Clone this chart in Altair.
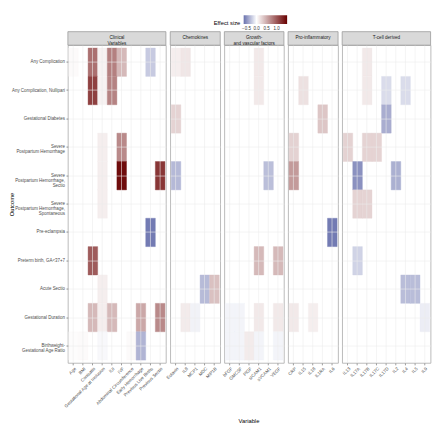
import altair as alt
import pandas as pd

outcomes = [
    "Any Complication",
    "Any Complication, Nullipari",
    "Gestational Diabetes",
    "Severe\nPostpartum Hemorrhage",
    "Severe\nPostpartum Hemorrhage,\nSectio",
    "Severe\nPostpartum Hemorrhage,\nSpontaneous",
    "Pre-eclampsia",
    "Preterm birth, GA<37+7",
    "Acute Sectio",
    "Gestational Duration",
    "Birthweight-\nGestational Age Ratio",
]

group_titles = ["Clinical\nVariables", "Chemokines", "Growth-\nand vascular factors",
                "Pro-inflammatory", "T-cell derived"]
clinical_vars = ["Age", "BMI", "Conisatio", "Gestational Age at Inclusion", "IUI", "IVF",
                 "Abdominal Circumference", "Early Hemorrhage", "Previous Live Births",
                 "Previous Sectio"]
chemokine_vars = ["Eotaxin", "IL8", "MCP1", "MDC", "MIP1B"]
growth_vars = ["bFGF", "GMCSF", "PlGF", "sICAM1", "sVCAM1", "VEGF"]
proinf_vars = ["CRP", "IL15", "IL18", "IL1RA", "IL6"]
tcell_vars = ["IL13", "IL17A", "IL17B", "IL17C", "IL17D", "IL2", "IL4", "IL5", "IL9"]

# cells: outcome index, variable, effect size
cell_row = [0, 0, 0, 0, 0, 0, 0, 0, 0, 0,
            1, 1, 1, 1, 1, 1, 1, 1,
            2, 2, 2,
            3, 3, 3, 3, 3, 3,
            4, 4, 4, 4, 4, 4, 4, 4,
            5, 5, 5,
            6, 6,
            7, 7, 7, 7,
            8, 8, 8, 8, 8,
            9, 9, 9, 9, 9, 9, 9, 9, 9, 9, 9, 9, 9, 9,
            10, 10, 10, 10, 10, 10, 10, 10, 10, 10]
cell_var = ["Age", "Conisatio", "Gestational Age at Inclusion", "IUI", "IVF", "Previous Live Births",
            "Eotaxin", "IL8", "sICAM1", "IL17B",
            "Conisatio", "Gestational Age at Inclusion", "IUI", "sICAM1", "IL15", "IL17B", "IL17D", "IL4",
            "Eotaxin", "IL1RA", "IL17D",
            "Gestational Age at Inclusion", "IVF", "CRP", "IL13", "IL17B", "IL17C",
            "Gestational Age at Inclusion", "IVF", "Previous Sectio", "Eotaxin", "sVCAM1", "CRP", "IL17A", "IL2",
            "Gestational Age at Inclusion", "IL17A", "IL17B",
            "Previous Live Births", "IL6",
            "Conisatio", "sICAM1", "VEGF", "IL17A",
            "Gestational Age at Inclusion", "MDC", "MIP1B", "IL4", "IL5",
            "Conisatio", "Gestational Age at Inclusion", "IUI", "Early Hemorrhage", "Previous Sectio",
            "IL8", "MCP1", "bFGF", "GMCSF", "sICAM1", "VEGF", "CRP", "IL18", "IL9",
            "Age", "BMI", "Gestational Age at Inclusion", "Abdominal Circumference", "Early Hemorrhage",
            "bFGF", "GMCSF", "PlGF", "sICAM1", "VEGF"]
cell_value = [0.03, 0.85, 0.08, 0.76, 0.42, -0.24,
              0.10, 0.15, 0.13, 0.13,
              1.14, 0.08, 0.74, 0.13, 0.18, 0.13, -0.16, -0.16,
              0.26, 0.34, -0.37,
              0.10, 0.70, 0.27, 0.27, 0.26, 0.26,
              0.10, 1.45, 1.20, -0.32, -0.29, 0.60, -0.50, -0.36,
              0.10, 0.26, 0.26,
              -0.60, -0.60,
              0.98, 0.42, 0.42, -0.20,
              0.10, -0.31, 0.37, -0.30, -0.30,
              0.42, 0.10, 0.42, 0.52, 0.70,
              0.12, -0.06, -0.05, -0.05, 0.13, 0.13, 0.13, 0.10, -0.08,
              0.02, 0.03, -0.03, 0.03, -0.34,
              -0.05, -0.05, 0.12, -0.05, -0.05]

df = pd.DataFrame({
    "outcome": [outcomes[i] for i in cell_row],
    "variable": cell_var,
    "value": cell_value,
})
df["edge"] = df["value"]

FONT = "Liberation Sans"
STEP_X = 9.95
HEIGHT = 329
group_vars = [clinical_vars, chemokine_vars, growth_vars, proinf_vars, tcell_vars]

LOW, MID, HIGH = "#6a72ae", "#ffffff", "#680000"
color_scale = alt.Scale(domain=[-0.64, 0, 1.52], range=[LOW, MID, HIGH], interpolate="rgb")
edge_scale = alt.Scale(domain=[-0.64, 0, 1.52], range=[LOW, MID, HIGH], interpolate="rgb")
legend = alt.Legend(
    title="Effect size", type="gradient", orient="none", legendX=151, legendY=-31,
    direction="horizontal", padding=0, offset=0,
    titleOrient="left", titleAnchor="middle", titleFontSize=6, titleFontWeight="normal",
    titleColor="#000000", titleBaseline="top", titlePadding=3,
    gradientLength=45, gradientThickness=9, gradientStrokeWidth=0,
    values=[-0.5, 0, 0.5, 1.0], format=".1f", labelFontSize=4.6, labelColor="#333333",
    labelOffset=2,
)

panels = []
for gi, (gtitle, vars_) in enumerate(zip(group_titles, group_vars)):
    w = STEP_X * (len(vars_) + 0.2)
    sub = df[df["variable"].isin(vars_)]
    if gi == 0:
        yaxis = alt.Axis(
            title="Outcome", labelExpr="split(datum.label, '\\n')", labelFontSize=4.6,
            labelColor="#4d4d4d", labelLineHeight=5.4, tickSize=2, tickColor="#333333",
            tickWidth=0.5, labelPadding=1.5, domain=False, grid=True, bandPosition=0.5,
            titleFontSize=6, titleFontWeight="normal", titleColor="#000000",
            titleX=-58, titleY=HEIGHT / 2, titleAngle=-90, titleAlign="center",
            titleBaseline="middle",
        )
    else:
        yaxis = alt.Axis(title=None, labels=False, ticks=False, domain=False, grid=True,
                         bandPosition=0.5)
    if gi == 2:
        xaxis = alt.Axis(title="Variable", labelAngle=-45, labelFontSize=4.6, labelColor="#4d4d4d",
                         tickSize=2, tickColor="#333333", tickWidth=0.5, domain=False, grid=True,
                         bandPosition=0.5, labelPadding=1, titleFontSize=6,
                         titleFontWeight="normal", titleColor="#000000", titleX=25, titleY=60,
                         titleAlign="center", titleBaseline="middle")
    else:
        xaxis = alt.Axis(title=None, labelAngle=-45, labelFontSize=4.6, labelColor="#4d4d4d",
                         tickSize=2, tickColor="#333333", tickWidth=0.5, domain=False, grid=True,
                         bandPosition=0.5, labelPadding=1)
    heat = alt.Chart(sub).mark_rect(strokeWidth=0.4).encode(
        x=alt.X("variable:N", sort=vars_,
                scale=alt.Scale(domain=vars_, paddingInner=0, paddingOuter=0.1), axis=xaxis),
        y=alt.Y("outcome:N", sort=outcomes,
                scale=alt.Scale(domain=outcomes, paddingInner=0, paddingOuter=0.1), axis=yaxis),
        color=alt.Color("value:Q", scale=color_scale, legend=legend),
        stroke=alt.Stroke("edge:Q", scale=edge_scale, legend=None),
    )
    sdf = pd.DataFrame({"t": [gtitle]})
    strip = alt.Chart(sdf).mark_rect(fill="#d9d9d9", stroke="#9a9a9a", strokeWidth=0.8).encode(
        x=alt.value(0), x2=alt.value(w), y=alt.value(-14), y2=alt.value(0),
    )
    stext = alt.Chart(sdf).mark_text(fontSize=4.8, color="#1a1a1a", lineBreak="\n",
                                     baseline="middle", lineHeight=5.4, font=FONT).encode(
        x=alt.value(w / 2), y=alt.value(-7), text="t:N",
    )
    panels.append(alt.layer(heat, strip, stext).properties(width=w, height=HEIGHT))

chart = alt.hconcat(*panels, spacing=4, bounds="flush").resolve_scale(
    x="independent", color="shared", stroke="independent"
).resolve_legend(stroke="independent").properties(padding=0).configure_view(
    stroke="#a6a6a6", strokeWidth=0.8
).configure_axis(
    labelFont=FONT, titleFont=FONT, gridColor="#ececec", gridWidth=0.6
).configure_legend(
    labelFont=FONT, titleFont=FONT
)

chart.save("out.html", embed_options={"renderer": "svg", "actions": False})
